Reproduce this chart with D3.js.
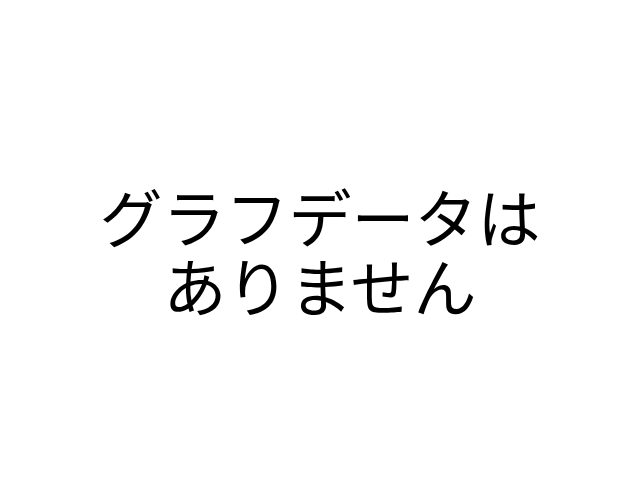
<!DOCTYPE html>
<html>
<head>
<meta charset="utf-8">
<script src="https://cdn.jsdelivr.net/npm/d3@7"></script>
<style>
  html, body { margin: 0; padding: 0; background: #fff; }
</style>
</head>
<body>
<div id="chart"></div>
<script>
// no series to plot -- the chart only shows the empty-state message
const categories = [];
const values = [];
const messageLines = ['グラフデータは', 'ありません'];

const width = 640,
  height = 500,
  fontSize = 63,
  lineGap = 69;

const svg = d3.select('#chart').append('svg')
  .attr('width', width)
  .attr('height', height);

svg.append('rect')
  .attr('width', width)
  .attr('height', height)
  .attr('fill', '#fff');

// nothing to draw, so show the message in the middle
if (!values.length) {
  const y = d3.scaleLinear()
    .domain([0, messageLines.length - 1])
    .range([242, 242 + lineGap * (messageLines.length - 1)]);

  svg.selectAll('.empty-msg')
    .data(messageLines)
    .enter().append('text')
    .attr('class', 'empty-msg')
    .attr('x', width / 2)
    .attr('y', (d, i) => y(i))
    .attr('text-anchor', 'middle')
    .attr('font-family', '"Noto Sans CJK JP", "Noto Sans", sans-serif')
    .attr('font-size', fontSize)
    .attr('fill', '#000')
    .text(d => d);
}
</script>
</body>
</html>
